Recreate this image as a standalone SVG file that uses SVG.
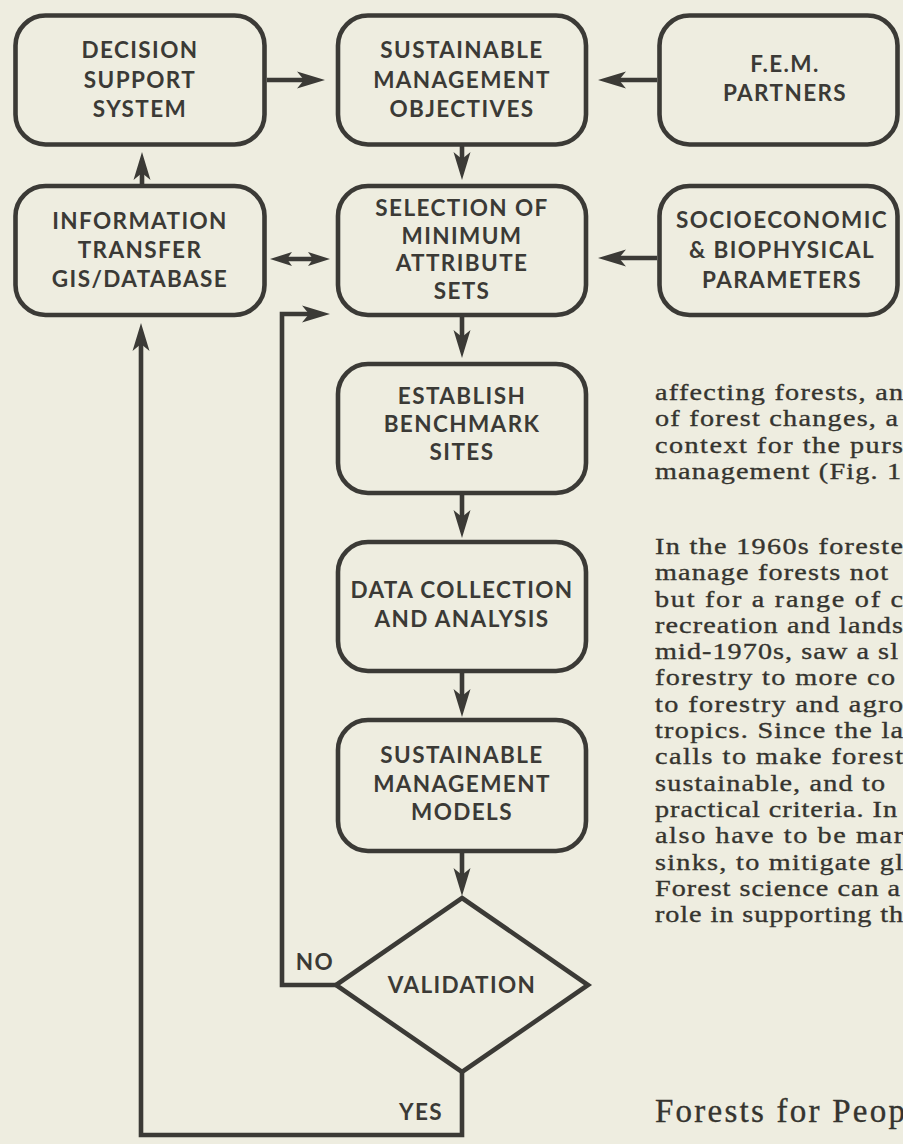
<svg xmlns="http://www.w3.org/2000/svg" width="903" height="1144" viewBox="0 0 903 1144">
<style>
.box{fill:none;stroke:#3b3a36;stroke-width:4.6}
.con{fill:none;stroke:#3b3a36;stroke-width:4.6;stroke-linejoin:miter}
.lbl{font-family:Lato,"Open Sans",sans-serif;font-weight:700;font-size:22.5px;letter-spacing:1.4px;fill:#3b3a36;text-anchor:middle}
.body{font-family:"Liberation Serif","Times New Roman",serif;font-size:23.5px;fill:#35342f;stroke:#35342f;stroke-width:0.35px}
.head{font-family:"Liberation Serif","Times New Roman",serif;font-size:33px;fill:#35342f;stroke:#35342f;stroke-width:0.35px}
</style>
<defs>
<marker id="arr" markerUnits="userSpaceOnUse" viewBox="-30 -10 32 20" markerWidth="32" markerHeight="20" refX="-12" refY="0" orient="auto">
<path d="M0,0 L-28,-8.5 L-21,0 L-28,8.5 Z" fill="#3b3a36"/>
</marker>
<marker id="arr2" markerUnits="userSpaceOnUse" viewBox="-24 -9 26 18" markerWidth="26" markerHeight="18" refX="-10" refY="0" orient="auto-start-reverse">
<path d="M0,0 L-22,-7 L-17,0 L-22,7 Z" fill="#3b3a36"/>
</marker>
</defs>
<rect x="0" y="0" width="903" height="1144" fill="#eeede0"/>

<g id="connectors">
<line class="con" x1="267" y1="80" x2="313" y2="80" marker-end="url(#arr)"/>
<line class="con" x1="657" y1="80" x2="610" y2="80" marker-end="url(#arr)"/>
<line class="con" x1="462" y1="146" x2="462" y2="168" marker-end="url(#arr)"/>
<line class="con" x1="142" y1="184" x2="142" y2="164" marker-end="url(#arr)"/>
<line class="con" x1="280" y1="259" x2="320" y2="259" marker-start="url(#arr2)" marker-end="url(#arr2)"/>
<line class="con" x1="657" y1="258" x2="610" y2="258" marker-end="url(#arr)"/>
<line class="con" x1="462" y1="317" x2="462" y2="346" marker-end="url(#arr)"/>
<line class="con" x1="462" y1="495" x2="462" y2="526" marker-end="url(#arr)"/>
<line class="con" x1="462" y1="673" x2="462" y2="705" marker-end="url(#arr)"/>
<line class="con" x1="462" y1="853" x2="462" y2="884" marker-end="url(#arr)"/>
<path class="con" d="M336,985 H282 V314 H318" marker-end="url(#arr)"/>
<path class="con" d="M462,1072 V1135 H141 V335" marker-end="url(#arr)"/>
<text class="lbl" x="315" y="970">NO</text>
<text class="lbl" x="421" y="1120">YES</text>
</g>

<g id="dss">
<rect class="box" x="15.5" y="15.5" width="249" height="129" rx="30"/>
<text class="lbl" x="140" y="58">DECISION</text>
<text class="lbl" x="140" y="88">SUPPORT</text>
<text class="lbl" x="140" y="117">SYSTEM</text>
</g>

<g id="smo">
<rect class="box" x="338" y="15.5" width="248" height="129" rx="30"/>
<text class="lbl" x="462" y="58">SUSTAINABLE</text>
<text class="lbl" x="462" y="88">MANAGEMENT</text>
<text class="lbl" x="462" y="117">OBJECTIVES</text>
</g>

<g id="fem">
<rect class="box" x="659.5" y="15.5" width="238" height="129" rx="30"/>
<text class="lbl" x="785" y="72">F.E.M.</text>
<text class="lbl" x="785" y="101">PARTNERS</text>
</g>

<g id="info">
<rect class="box" x="15.5" y="186" width="249" height="129" rx="30"/>
<text class="lbl" x="140" y="229">INFORMATION</text>
<text class="lbl" x="140" y="258">TRANSFER</text>
<text class="lbl" x="140" y="287">GIS/DATABASE</text>
</g>

<g id="selection">
<rect class="box" x="338" y="186" width="248" height="129" rx="30"/>
<text class="lbl" x="462" y="216">SELECTION OF</text>
<text class="lbl" x="462" y="243.5">MINIMUM</text>
<text class="lbl" x="462" y="271">ATTRIBUTE</text>
<text class="lbl" x="462" y="298.5">SETS</text>
</g>

<g id="socio">
<rect class="box" x="659.5" y="186" width="238" height="129" rx="30"/>
<text class="lbl" x="782" y="228">SOCIOECONOMIC</text>
<text class="lbl" x="782" y="258">&amp; BIOPHYSICAL</text>
<text class="lbl" x="782" y="288">PARAMETERS</text>
</g>

<g id="establish">
<rect class="box" x="338" y="364" width="248" height="129" rx="30"/>
<text class="lbl" x="462" y="404">ESTABLISH</text>
<text class="lbl" x="462" y="432">BENCHMARK</text>
<text class="lbl" x="462" y="460">SITES</text>
</g>

<g id="data">
<rect class="box" x="338" y="542" width="248" height="129" rx="30"/>
<text class="lbl" x="462" y="598">DATA COLLECTION</text>
<text class="lbl" x="462" y="627">AND ANALYSIS</text>
</g>

<g id="models">
<rect class="box" x="338" y="720" width="248" height="131" rx="30"/>
<text class="lbl" x="462" y="763">SUSTAINABLE</text>
<text class="lbl" x="462" y="792">MANAGEMENT</text>
<text class="lbl" x="462" y="820">MODELS</text>
</g>

<g id="validation">
<polygon class="box" points="462,898 588,985 462,1072 336,985" stroke-linejoin="miter"/>
<text class="lbl" x="462" y="993">VALIDATION</text>
</g>

<g id="bodytext">
<g transform="translate(655,0) scale(1.2,1)">
<text class="body" x="0" y="400" textLength="206.7" lengthAdjust="spacing">affecting forests, an</text>
<text class="body" x="0" y="426.3" textLength="202.5" lengthAdjust="spacing">of forest changes, a</text>
<text class="body" x="0" y="452.6" textLength="206.7" lengthAdjust="spacing">context for the purs</text>
<text class="body" x="0" y="478.9" textLength="205" lengthAdjust="spacing">management (Fig. 1</text>
<text class="body" x="0" y="554" textLength="206.7" lengthAdjust="spacing">In the 1960s foreste</text>
<text class="body" x="0" y="580.3" textLength="194.2" lengthAdjust="spacing">manage forests not</text>
<text class="body" x="0" y="606.6" textLength="206.7" lengthAdjust="spacing">but for a range of c</text>
<text class="body" x="0" y="632.9" textLength="206.7" lengthAdjust="spacing">recreation and lands</text>
<text class="body" x="0" y="659.2" textLength="202.5" lengthAdjust="spacing">mid-1970s, saw a sl</text>
<text class="body" x="0" y="685.5" textLength="200" lengthAdjust="spacing">forestry to more co</text>
<text class="body" x="0" y="711.8" textLength="206.7" lengthAdjust="spacing">to forestry and agro</text>
<text class="body" x="0" y="738.1" textLength="206.7" lengthAdjust="spacing">tropics. Since the la</text>
<text class="body" x="0" y="764.4" textLength="206.7" lengthAdjust="spacing">calls to make forest</text>
<text class="body" x="0" y="790.7" textLength="191.7" lengthAdjust="spacing">sustainable, and to</text>
<text class="body" x="0" y="817" textLength="201.7" lengthAdjust="spacing">practical criteria. In</text>
<text class="body" x="0" y="843.3" textLength="206.7" lengthAdjust="spacing">also have to be mar</text>
<text class="body" x="0" y="869.6" textLength="206.7" lengthAdjust="spacing">sinks, to mitigate gl</text>
<text class="body" x="0" y="895.9" textLength="204.2" lengthAdjust="spacing">Forest science can a</text>
<text class="body" x="0" y="922.2" textLength="206.7" lengthAdjust="spacing">role in supporting th</text>
</g>
<text class="head" x="655" y="1122" textLength="250" lengthAdjust="spacing">Forests for Peop</text>
</g>
</svg>
